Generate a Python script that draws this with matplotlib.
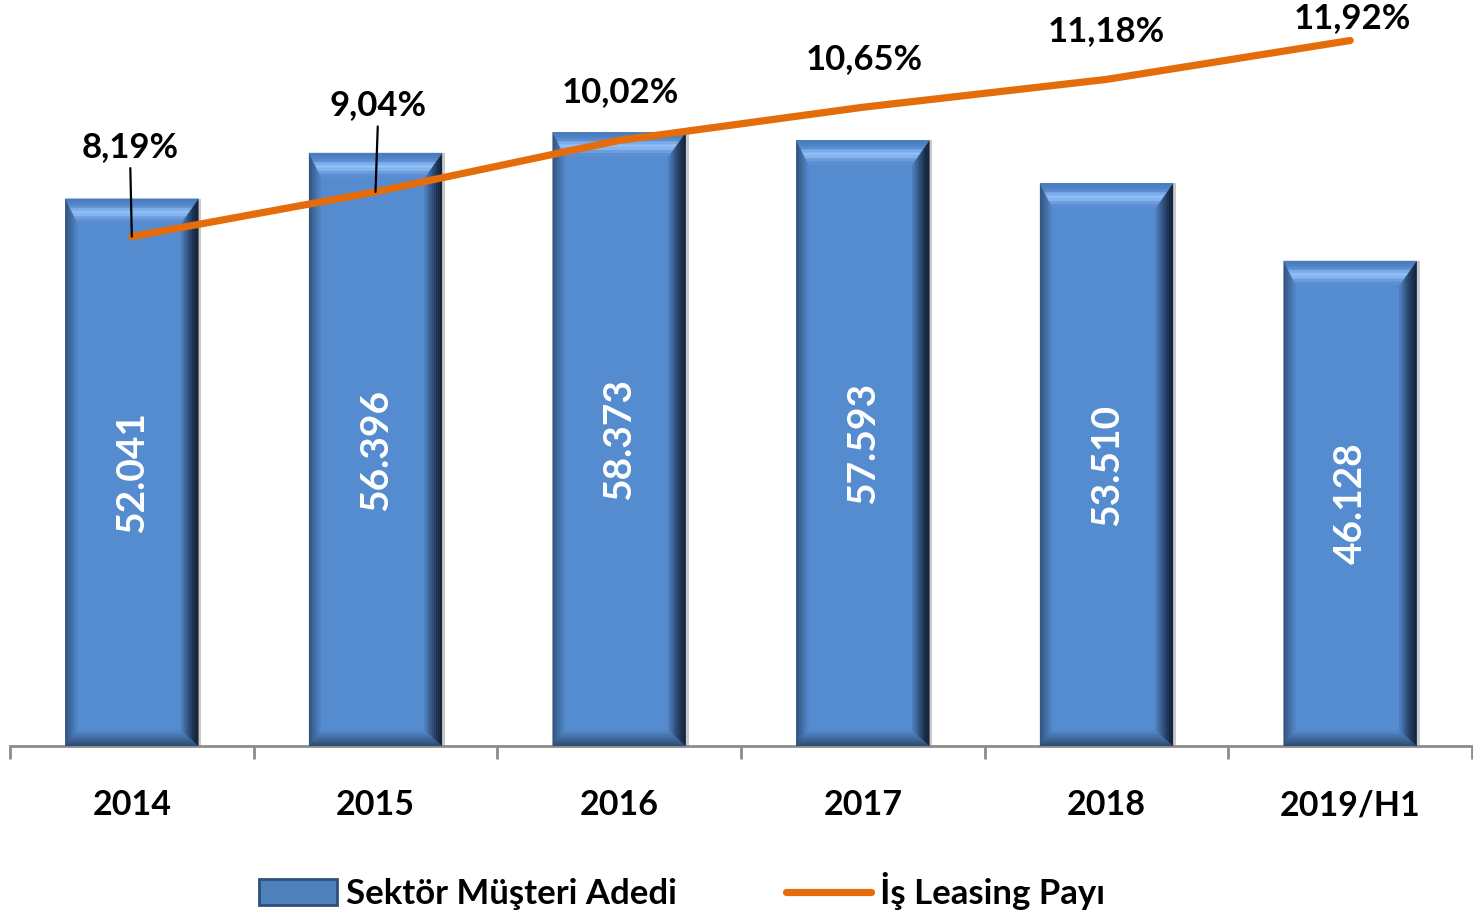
import numpy as np
import matplotlib
matplotlib.use("Agg")
import matplotlib.pyplot as plt
from matplotlib.patches import Polygon, Patch
from matplotlib.lines import Line2D
from matplotlib.colors import to_rgb

plt.rcParams['font.family'] = ['Lato', 'DejaVu Sans']

# Data
years = ['2014', '2015', '2016', '2017', '2018', '2019/H1']
customers = [52041, 56396, 58373, 57593, 53510, 46128]
share = [8.19, 9.04, 10.02, 10.65, 11.18, 11.92]

bar_label = 'Sektör Müşteri Adedi'
line_label = 'İş Leasing Payı'

FS = 25
FS_VAL = 28
main_col = '#558BCF'
orange = '#E46C0A'

W, H = 1473, 915
fig = plt.figure(figsize=(W / 100, H / 100), dpi=100)
ax = fig.add_axes([10 / W, (H - 746) / H, 1462 / W, 736 / H])
ax2 = ax.twinx()

ax.set_xlim(-0.5, 5.5)
ax.set_ylim(0, 70000)
ax2.set_ylim(-1.5, 12.5)

# pixel -> data conversion for the bevel sizes
px_x = 6.0 / 1462
px_y = 70000 / 736.0

x = np.arange(len(years))
bw = 0.545


def mix(c1, c2, t):
    a, b = np.array(to_rgb(c1)), np.array(to_rgb(c2))
    return tuple(a + (b - a) * t)


def bevel_bar(ax, xc, v, w):
    # shadow at the right
    ax.bar(xc + 3 * px_x, v, w, color='#c9c9c9', zorder=1)
    ax.bar(xc, v, w, color=main_col, zorder=2)
    n = 8
    ins = dict(l=12, r=17, t=24, b=15)
    left_c = [mix('#33547E', main_col, k / n) for k in range(n)]
    right_c = [mix('#14223A', main_col, (k / n) ** 1.3) for k in range(n)]
    bot_c = [mix('#2E4B72', main_col, k / n) for k in range(n)]
    top_c = ['#4B7DBE', '#4F82C3', '#5A8DD0', '#7AABEA', '#8FBEF7',
             '#86B4EE', '#6E9DDB', '#5C8FD2']
    x0, x1, y0, y1 = xc - w / 2, xc + w / 2, 0, v
    for k in range(n):
        a0 = x0 + ins['l'] * k / n * px_x
        a1 = x1 - ins['r'] * k / n * px_x
        b0 = y0 + ins['b'] * k / n * px_y
        b1 = y1 - ins['t'] * k / n * px_y
        c0 = x0 + ins['l'] * (k + 1) / n * px_x
        c1 = x1 - ins['r'] * (k + 1) / n * px_x
        d0 = y0 + ins['b'] * (k + 1) / n * px_y
        d1 = y1 - ins['t'] * (k + 1) / n * px_y
        polys = [
            ([(a0, b0), (c0, d0), (c0, d1), (a0, b1)], left_c[k]),
            ([(a1, b0), (c1, d0), (c1, d1), (a1, b1)], right_c[k]),
            ([(a0, b1), (c0, d1), (c1, d1), (a1, b1)], top_c[k]),
            ([(a0, b0), (c0, d0), (c1, d0), (a1, b0)], bot_c[k]),
        ]
        for pts, col in polys:
            ax.add_patch(Polygon(pts, closed=True, facecolor=col,
                                 edgecolor=col, lw=0.3, zorder=3))


for xi, v in zip(x, customers):
    bevel_bar(ax, xi, v, bw)
    ax.text(xi, v / 2, f"{v:,}".replace(",", "."), rotation=90,
            ha='center', va='center', color='white', fontsize=FS_VAL,
            fontweight='bold', zorder=5)

ax2.plot(x, share, color=orange, lw=5.2, solid_capstyle='round', zorder=6)

# label offsets above point (pixels)
offs = [90, 87, 48, 48, 48, 22]
xoffs = [-2, 3, 1, 1, 0, 2]
for i, (xi, p) in enumerate(zip(x, share)):
    lead = i < 2
    ax2.annotate(f"{p:.2f}%".replace(".", ","), xy=(xi, p),
                 xytext=(xoffs[i] * 0.72, offs[i] * 0.72),
                 textcoords='offset points', ha='center', va='center',
                 fontsize=FS, fontweight='bold', color='black',
                 arrowprops=dict(arrowstyle='-', color='black', lw=1.6,
                                 shrinkA=2, shrinkB=0) if lead else None,
                 zorder=7)

for a in (ax, ax2):
    for s in ('top', 'right', 'left'):
        a.spines[s].set_visible(False)
    a.set_yticks([])
ax2.spines['bottom'].set_visible(False)
ax.spines['bottom'].set_color('#8c8c8c')
ax.spines['bottom'].set_linewidth(2)
ax.set_xticks(x)
ax.set_xticklabels(years, fontsize=FS - 0.5, fontweight='bold')
ax.tick_params(axis='x', length=0, pad=31)
ax.set_xticks(np.arange(-0.5, 6, 1), minor=True)
ax.tick_params(axis='x', which='minor', length=9, width=2, color='#8c8c8c')

leg_kw = dict(loc='center left', frameon=False, borderpad=0,
              borderaxespad=0, prop=dict(size=FS, weight='bold'),
              handletextpad=0.25)
leg1 = fig.legend([Patch(facecolor='#4F81BD', edgecolor='#2F4F7A', lw=2)],
                  [bar_label], bbox_to_anchor=(259 / W, 21 / H),
                  handlelength=2.25, handleheight=0.75, **leg_kw)
leg2 = fig.legend([Line2D([0], [0], color=orange, lw=5.2,
                          solid_capstyle='round')],
                  [line_label], bbox_to_anchor=(786 / W, 24 / H),
                  handlelength=2.45, **leg_kw)

fig.savefig('out.png', dpi=100)
